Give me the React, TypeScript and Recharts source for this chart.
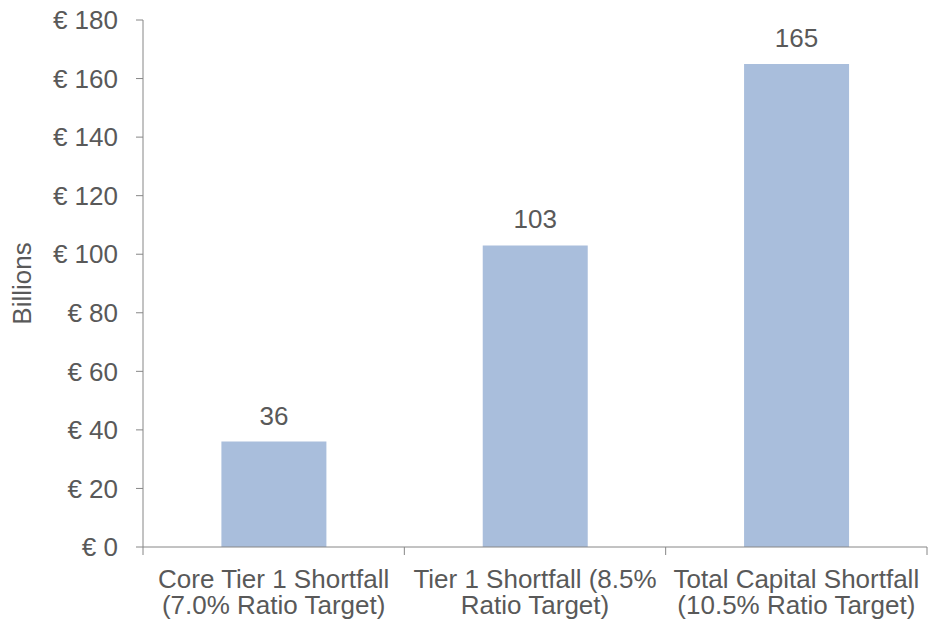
import React from "react";
import { BarChart, Bar, XAxis, YAxis, LabelList, Label } from "recharts";

// categories (two lines each, split on "\n")
const categories = [
  "Core Tier 1 Shortfall\n(7.0% Ratio Target)",
  "Tier 1 Shortfall (8.5%\nRatio Target)",
  "Total Capital Shortfall\n(10.5% Ratio Target)",
];
const shortfall = [36, 103, 165];
const yTicks = [0, 20, 40, 60, 80, 100, 120, 140, 160, 180];

const data = categories.map((name, i) => ({ name, value: shortfall[i] }));

const W = 928;
const H = 624;
const LEFT = 143;
const RIGHT = 1;
const FONT = "'Liberation Sans', Arial, sans-serif";
const TEXT = "#595959";
const AXIS = "#868686";

// Excel-style category axis: tick marks sit between categories
function CatTick(props: any) {
  const { x, y, payload, index } = props;
  const band = (W - LEFT - RIGHT) / categories.length;
  const lines = String(payload.value).split("\n");
  return (
    <g>
      <line x1={x - band / 2} x2={x - band / 2} y1={y} y2={y + 8} stroke={AXIS} />
      {index === categories.length - 1 && (
        <line x1={x + band / 2} x2={x + band / 2} y1={y} y2={y + 8} stroke={AXIS} />
      )}
      <text textAnchor="middle" fill={TEXT} fontSize={26} fontFamily={FONT}>
        {lines.map((l, i) => (
          <tspan key={i} x={x} y={y + 41 + i * 26}>
            {l}
          </tspan>
        ))}
      </text>
    </g>
  );
}

export default function App() {
  return (
    <div style={{ position: "absolute", left: 0, top: 0, width: W, height: H, background: "#fff" }}>
      <BarChart
        width={W}
        height={H}
        data={data}
        margin={{ top: 20, right: RIGHT, bottom: 0, left: 0 }}
        barCategoryGap="30%"
      >
        <XAxis
          dataKey="name"
          height={77}
          interval={0}
          tickLine={false}
          tickSize={0}
          tickMargin={0}
          axisLine={{ stroke: AXIS }}
          tick={<CatTick />}
        />
        <YAxis
          width={LEFT}
          domain={[0, 180]}
          ticks={yTicks}
          interval={0}
          tickSize={7}
          tickMargin={18}
          axisLine={{ stroke: AXIS }}
          tickLine={{ stroke: AXIS }}
          tick={{ fill: TEXT, fontSize: 26, fontFamily: FONT }}
          tickFormatter={(v: number) => `€ ${v}`}
        >
          <Label
            value="Billions"
            angle={-90}
            position="insideLeft"
            offset={22}
            style={{ textAnchor: "middle", fill: TEXT, fontSize: 26, fontFamily: FONT }}
          />
        </YAxis>
        <Bar dataKey="value" fill="#A9BEDC" isAnimationActive={false}>
          <LabelList
            dataKey="value"
            position="top"
            offset={17}
            fill={TEXT}
            fontSize={26}
            fontFamily={FONT}
          />
        </Bar>
      </BarChart>
    </div>
  );
}
